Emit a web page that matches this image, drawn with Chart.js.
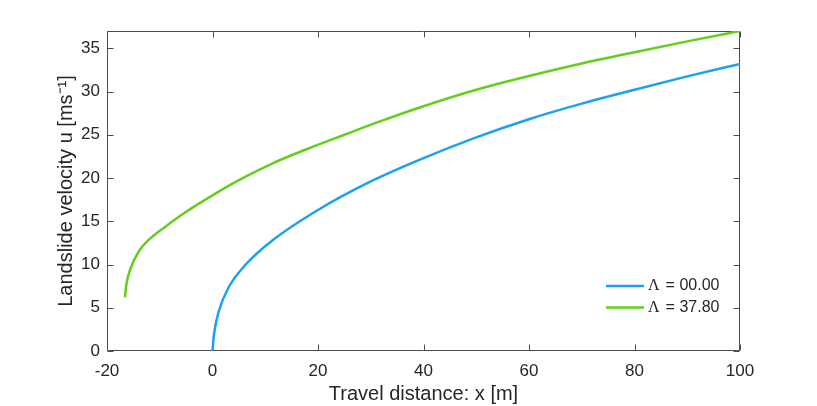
<!DOCTYPE html>
<html>
<head>
<meta charset="utf-8">
<script src="https://cdn.jsdelivr.net/npm/chart.js@4"></script>
<style>
  body { margin: 0; background: #fff; }
  #wrap { width: 817px; height: 406px; }
</style>
</head>
<body>
<div id="wrap"><canvas id="chart" width="817" height="406"></canvas></div>
<script>
// values
const blueX = [0, 0.3, 1.25, 3.1, 6.3, 11.4, 20, 30, 40, 50, 60, 70, 80, 90, 100];
const blueY = [0, 2.0, 4.7, 7.4, 10.0, 12.8, 16.3, 19.6, 22.3, 24.7, 26.8, 28.6, 30.2, 31.75, 33.2];
const greenX = [-16.6, -16.3, -15.5, -14.0, -12.0, -9.0, -5.0, 0, 5, 11.4, 17.7, 25, 32, 40, 50, 60, 70, 80, 90, 100];
const greenY = [6.2, 7.8, 9.6, 11.5, 12.9, 14.35, 16.1, 18.0, 19.75, 21.7, 23.3, 25.0, 26.6, 28.3, 30.2, 31.8, 33.25, 34.55, 35.8, 37.0];
const seriesLabels = ['= 00.00', '= 37.80'];
const xTicks = [-20, 0, 20, 40, 60, 80, 100];
const yTicks = [0, 5, 10, 15, 20, 25, 30, 35];

const toPoints = (xs, ys) => xs.map((x, i) => ({ x: x, y: ys[i] }));
const axisColor = '#262626';
const sans = '"Liberation Sans", Arial, Helvetica, sans-serif';

// box, inward ticks on all four sides and the legend, like the matlab figure
const matlabAxes = {
  id: 'matlabAxes',
  beforeDatasetsDraw(chart) {
    const ctx = chart.ctx;
    const a = chart.chartArea;
    const xs = chart.scales.x, ys = chart.scales.y;
    const L = Math.round(a.left) + 0.5, R = Math.round(a.right) - 0.5;
    const T = Math.round(a.top) + 0.5, B = Math.round(a.bottom) - 0.5;
    ctx.save();
    ctx.strokeStyle = '#4d4d4d';
    ctx.lineWidth = 1;
    ctx.beginPath();
    ctx.rect(L, T, R - L, B - T);
    xTicks.forEach(v => {
      const px = Math.round(xs.getPixelForValue(v)) + 0.5;
      ctx.moveTo(px, B); ctx.lineTo(px, B - 6);
      ctx.moveTo(px, T); ctx.lineTo(px, T + 6);
    });
    yTicks.forEach(v => {
      const py = Math.round(ys.getPixelForValue(v)) + 0.5;
      ctx.moveTo(L, py); ctx.lineTo(L + 6, py);
      ctx.moveTo(R, py); ctx.lineTo(R - 6, py);
    });
    ctx.stroke();
    ctx.restore();
  },
  afterDraw(chart) {
    const ctx = chart.ctx;
    const a = chart.chartArea;
    ctx.save();
    chart.data.datasets.forEach((ds, i) => {
      const y = a.bottom - 65 + i * 21.5;
      const x0 = a.right - 134;
      ctx.strokeStyle = ds.borderColor;
      ctx.lineWidth = 2.5;
      ctx.beginPath();
      ctx.moveTo(x0, y); ctx.lineTo(x0 + 38, y);
      ctx.stroke();
      ctx.fillStyle = axisColor;
      ctx.textBaseline = 'middle';
      ctx.font = '16px "Liberation Serif", "Times New Roman", serif';
      ctx.fillText('\u039B', x0 + 42, y);
      const w = ctx.measureText('\u039B ').width;
      ctx.font = '16px ' + sans;
      ctx.fillText(ds.label, x0 + 42 + w + 2, y);
    });
    ctx.restore();
  }
};

new Chart(document.getElementById('chart'), {
  type: 'scatter',
  data: {
    datasets: [
      {
        label: seriesLabels[0],
        data: toPoints(blueX, blueY),
        borderColor: '#1ca1f2',
        backgroundColor: '#1ca1f2',
        showLine: true,
        borderWidth: 2.5,
        pointRadius: 0,
        cubicInterpolationMode: 'monotone'
      },
      {
        label: seriesLabels[1],
        data: toPoints(greenX, greenY),
        borderColor: '#62cf1a',
        backgroundColor: '#62cf1a',
        showLine: true,
        borderWidth: 2.5,
        pointRadius: 0,
        cubicInterpolationMode: 'monotone'
      }
    ]
  },
  options: {
    responsive: false,
    animation: false,
    events: [],
    layout: { padding: { left: 0, top: 31, right: 77, bottom: 0 } },
    plugins: {
      legend: { display: false },
      tooltip: { enabled: false }
    },
    scales: {
      x: {
        type: 'linear',
        min: -20,
        max: 100,
        afterFit: s => { s.height = 55; },
        afterBuildTicks: s => { s.ticks = xTicks.map(v => ({ value: v })); },
        grid: { display: false, drawTicks: false },
        border: { display: false },
        ticks: { color: axisColor, padding: 10, font: { family: sans, size: 17 } },
        title: {
          display: true,
          text: 'Travel distance: x [m]',
          color: axisColor,
          font: { family: sans, size: 20 },
          padding: { top: 0, bottom: 0 }
        }
      },
      y: {
        type: 'linear',
        min: 0,
        max: 37,
        afterFit: s => { s.width = 107; },
        afterBuildTicks: s => { s.ticks = yTicks.map(v => ({ value: v })); },
        grid: { display: false, drawTicks: false },
        border: { display: false },
        ticks: { color: axisColor, padding: 7, font: { family: sans, size: 17 } },
        title: {
          display: true,
          text: 'Landslide velocity u [ms\u207B\u00B9]',
          color: axisColor,
          font: { family: sans, size: 20 },
          padding: { top: 54, bottom: 0 }
        }
      }
    }
  },
  plugins: [matlabAxes]
});
</script>
</body>
</html>
